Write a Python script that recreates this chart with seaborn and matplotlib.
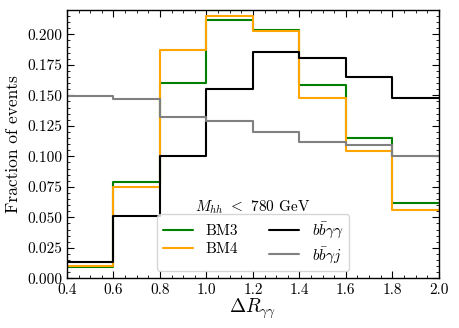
import numpy as np
import pandas as pd
import matplotlib
matplotlib.use("Agg")
import matplotlib.pyplot as plt
import seaborn as sns

# Data
edges = [0.4, 0.6, 0.8, 1.0, 1.2, 1.4, 1.6, 1.8, 2.0]
bm3 = [0.0095, 0.079, 0.1605, 0.2115, 0.2040, 0.1588, 0.1148, 0.0618]
bm4 = [0.0105, 0.075, 0.1868, 0.2150, 0.2030, 0.1482, 0.1047, 0.0558]
bbaa = [0.0135, 0.0515, 0.1005, 0.1555, 0.1858, 0.1808, 0.1652, 0.1476]
bbaj = [0.1495, 0.1468, 0.1322, 0.1292, 0.1202, 0.1118, 0.1092, 0.1005]
labels = ["BM3", "BM4", r"$b\bar{b}\gamma\gamma$", r"$b\bar{b}\gamma j$"]
colors = ["green", "orange", "black", "gray"]
xticks = [0.4, 0.6, 0.8, 1.0, 1.2, 1.4, 1.6, 1.8, 2.0]
yticks = [0.0, 0.025, 0.05, 0.075, 0.1, 0.125, 0.15, 0.175, 0.2]

sns.set_theme(style="ticks")
plt.rcParams.update({
    "font.family": "serif",
    "font.serif": ["cmr10", "DejaVu Serif"],
    "mathtext.fontset": "cm",
    "axes.formatter.use_mathtext": True,
    "axes.unicode_minus": False,
    "axes.edgecolor": "black",
    "xtick.color": "black",
    "ytick.color": "black",
    "text.color": "black",
    "axes.labelcolor": "black",
})

centers = [(edges[i] + edges[i + 1]) / 2 for i in range(len(edges) - 1)]
rows = []
for lab, vals in zip(labels, [bm3, bm4, bbaa, bbaj]):
    for c, v in zip(centers, vals):
        rows.append({"x": c, "w": v, "sample": lab})
df = pd.DataFrame(rows)

fig = plt.figure(figsize=(4.59, 3.28), dpi=100)
ax = fig.add_axes([0.146, 0.1515, 0.81, 0.818])

for lab, col in zip(labels, colors):
    sub = df[df["sample"] == lab]
    sns.histplot(data=sub, x="x", weights="w", bins=edges, element="step",
                 fill=False, stat="count", color=col, linewidth=1.5,
                 legend=False, ax=ax)

ax.set_xlim(0.4, 2.0)
ax.set_ylim(0.0, 0.22)
ax.set_xticks(xticks)
ax.set_yticks(yticks)
ax.set_xticklabels([f"{t:.1f}" for t in xticks])
ax.set_yticklabels([f"{t:.3f}" for t in yticks])
ax.set_xticks(np.arange(0.4, 2.0001, 0.05), minor=True)
ax.set_yticks(np.arange(0.0, 0.2201, 0.005), minor=True)
ax.tick_params(which="both", direction="in", top=True, right=True, labelsize=11)
ax.tick_params(which="major", length=5, width=0.8)
ax.tick_params(which="minor", length=2.5, width=0.6)
for s in ax.spines.values():
    s.set_linewidth(1.0)

ax.set_xlabel(r"$\Delta R_{\gamma\gamma}$", fontsize=14, labelpad=0)
ax.set_ylabel("Fraction of events", fontsize=12.5)

handles = [plt.Line2D([], [], color=c, lw=1.5) for c in colors]
ax.legend(handles, labels, ncol=2, loc="lower center", fontsize=11,
          bbox_to_anchor=(0.5, 0.0), columnspacing=2.0, handlelength=2.0,
          labelspacing=0.3, borderpad=0.4)
ax.text(0.5, 0.266, r"$M_{hh}$ $<$ 780 GeV", transform=ax.transAxes,
        ha="center", va="center", fontsize=11)

fig.savefig("out.png", dpi=100)
